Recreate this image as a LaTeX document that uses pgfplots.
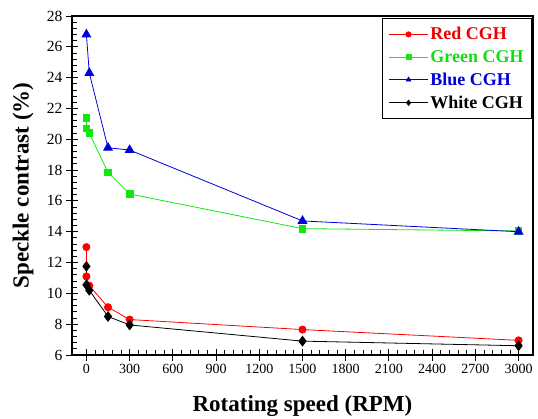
\documentclass[border=0pt]{standalone}
\usepackage{fontspec}
\setmainfont{Liberation Serif}
\usepackage{pgfplots}
\pgfplotsset{compat=1.18}
\definecolor{cred}{RGB}{255,0,0}
\definecolor{cgreen}{RGB}{20,230,20}
\definecolor{cblue}{RGB}{0,0,220}
\definecolor{tred}{RGB}{235,0,0}
\definecolor{tgreen}{RGB}{20,220,20}
\definecolor{tblue}{RGB}{0,0,215}
\begin{document}
\begin{tikzpicture}
\begin{axis}[
  scale only axis,
  width=461pt, height=339pt,
  xmin=-100, xmax=3100,
  ymin=6, ymax=28,
  xtick={0,300,...,3000},
  ytick={6,8,...,28},
  minor x tick num=4,
  minor y tick num=4,
  xtick pos=left, ytick pos=left,
  tick align=center,
  major tick length=12pt, minor tick length=5pt,
  minor x tick style={yshift=2.5pt},
  minor y tick style={xshift=2.5pt},
  every tick/.style={black, line width=0.9pt},
  axis line style={line width=1.2pt},
  /pgf/number format/assume math mode=true,
  /pgf/number format/1000 sep={},
  xticklabel={\pgfmathprintnumber{\tick}},
  yticklabel={\pgfmathprintnumber{\tick}},
  xticklabel style={font=\fontsize{14}{16}\selectfont},
  yticklabel style={font=\fontsize{15.5}{18}\selectfont},
  xlabel={\textbf{Rotating speed (RPM)}},
  ylabel={\textbf{Speckle contrast (\%)}},
  label style={font=\fontsize{23}{26}\selectfont},
  xlabel style={at={(axis description cs:0.5,-0.168)}, anchor=base},
  ylabel style={at={(axis description cs:-0.106,0.5)}, anchor=center},
  legend style={at={(rel axis cs:1,1)}, xshift=-1pt, yshift=-2pt, anchor=north east,
    font=\fontsize{18}{21}\selectfont\bfseries, draw=black, line width=0.8pt,
    inner xsep=6pt, inner ysep=7pt, row sep=5pt},
  legend cell align=left,
  legend image code/.code={%
    \draw[mark repeat=2,mark phase=2,#1,mark size=2.6pt]
      plot coordinates {(0pt,0pt) (19.5pt,0pt) (39pt,0pt)};},
  every axis plot/.append style={line width=0.8pt},
]
\addplot[cred, mark=*, mark size=3.6pt] coordinates {
  (0,13.0) (0,11.1) (20,10.5) (150,9.1) (300,8.3) (1500,7.65) (3000,6.95)};
\addlegendentry{\textcolor{tred}{Red CGH}}
\addplot[cgreen, mark=square*, mark size=3.3pt] coordinates {
  (0,21.4) (0,20.7) (20,20.4) (150,17.85) (300,16.45) (1500,14.2) (3000,14.05)};
\addlegendentry{\textcolor{tgreen}{Green CGH}}
\addplot[cblue, mark=triangle*, mark size=5pt] coordinates {
  (0,26.8) (20,24.3) (150,19.45) (300,19.3) (1500,14.7) (3000,14.0)};
\addlegendentry{\textcolor{tblue}{Blue CGH}}
\addplot[black, mark=diamond*, mark size=4.8pt] coordinates {
  (0,11.75) (0,10.55) (20,10.2) (150,8.5) (300,7.95) (1500,6.9) (3000,6.6)};
\addlegendentry{White CGH}
\coordinate (bl) at (rel axis cs:0,0);
\coordinate (tr) at (rel axis cs:1,1);
\end{axis}
\pgfresetboundingbox
\path ([shift={(-72pt,-64pt)}]bl) rectangle ([shift={(5pt,16pt)}]tr);
\end{tikzpicture}
\end{document}
